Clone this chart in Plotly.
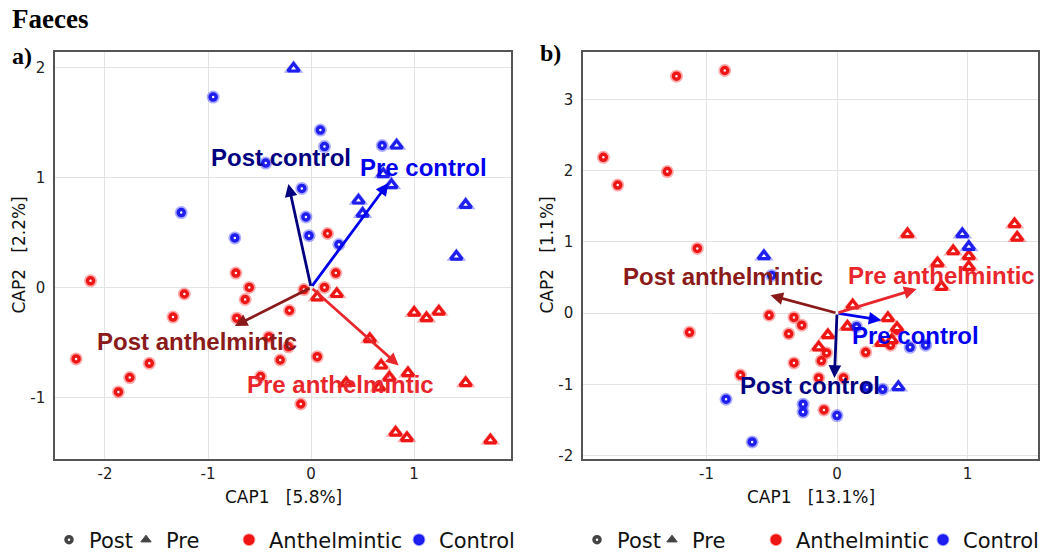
import plotly.graph_objects as go

# ---------------- panel a) : sample scores ----------------
a_post_anth_x = [-2.14, -0.73, -0.60, -0.64, -1.23, -1.34, -0.72, -2.28, -1.57, -1.76, -1.87, -0.49,
                 0.16, 0.24, 0.13, -0.07, -0.21, -0.41, -0.22, -0.30, 0.06, -0.10]
a_post_anth_y = [0.06, 0.13, 0.00, -0.11, -0.06, -0.27, -0.28, -0.65, -0.69, -0.82, -0.95, -0.81,
                 0.49, 0.13, 0.00, -0.02, -0.21, -0.45, -0.54, -0.66, -0.63, -1.06]
a_pre_anth_x = [0.06, 0.25, 1.00, 1.12, 1.24, 0.57, 0.68, 0.94, 0.76, 0.66, 0.34, 1.50, 0.82, 0.93, 1.74]
a_pre_anth_y = [-0.09, -0.06, -0.23, -0.28, -0.22, -0.47, -0.71, -0.78, -0.82, -0.91, -0.87, -0.87,
                -1.32, -1.37, -1.39]
a_post_ctrl_x = [-0.95, -0.44, 0.09, 0.13, 0.69, -0.09, -0.05, -0.02, 0.27, -1.26, -0.74]
a_post_ctrl_y = [1.73, 1.13, 1.43, 1.28, 1.29, 0.90, 0.64, 0.47, 0.39, 0.68, 0.45]
a_pre_ctrl_x = [-0.17, 0.83, 0.70, 0.78, 0.46, 0.50, 1.50, 1.41]
a_pre_ctrl_y = [1.99, 1.29, 1.03, 0.93, 0.79, 0.67, 0.75, 0.28]

# ---------------- panel b) : sample scores ----------------
b_post_anth_x = [-1.79, -1.68, -1.30, -1.23, -0.86, -1.07, -1.13, -0.52, -0.74, -0.33, -0.27, -0.37,
                 -0.33, -0.08, -0.12, 0.22, 0.41, -0.14, 0.05, -0.10, 0.46]
b_post_anth_y = [2.19, 1.80, 1.99, 3.33, 3.41, 0.91, -0.27, -0.03, -0.87, -0.06, -0.17, -0.29,
                 -0.70, -0.56, -0.67, -0.55, -0.45, -0.91, -0.91, -1.36, -0.24]
b_pre_anth_x = [0.54, 1.36, 1.38, 0.89, 1.01, 0.77, 1.01, 0.80, 0.12, 0.39, 0.08, 0.46, -0.07, -0.14,
                0.34, 0.42]
b_pre_anth_y = [1.11, 1.25, 1.06, 0.87, 0.80, 0.70, 0.65, 0.37, 0.11, -0.07, -0.19, -0.21, -0.31, -0.48,
                -0.42, -0.38]
b_post_ctrl_x = [-0.50, -0.85, -0.65, -0.26, -0.26, 0.00, 0.23, 0.35, 0.56, 0.68, 0.15]
b_post_ctrl_y = [0.53, -1.21, -1.81, -1.28, -1.39, -1.44, -1.04, -1.07, -0.48, -0.45, -0.19]
b_pre_ctrl_x = [-0.56, 0.96, 1.01, 0.47]
b_pre_ctrl_y = [0.80, 1.11, 0.93, -1.04]

# ---------------- constrained-group vectors ----------------
vec_names = ["Post control", "Pre control", "Post anthelmintic", "Pre anthelmintic"]
vec_colors = ["#00007F", "#0000EE", "#8B1A1A", "#E8262B"]
a_vec_x = [-0.22, 0.75, -0.74, 0.85]
a_vec_y = [0.94, 0.95, -0.35, -0.71]
a_lab_x = [-0.29, 1.09, -1.11, 0.29]
a_lab_y = [1.18, 1.09, -0.49, -0.88]
b_vec_x = [-0.02, 0.34, -0.51, 0.61]
b_vec_y = [-0.91, -0.10, 0.25, 0.34]
b_lab_x = [-0.21, 0.60, -0.87, 0.80]
b_lab_y = [-1.01, -0.31, 0.51, 0.53]

# axis texts and ticks
a_xtitle, a_ytitle = "CAP1\u00a0\u00a0\u00a0[5.8%]", "CAP2\u00a0\u00a0\u00a0[2.2%]"
b_xtitle, b_ytitle = "CAP1\u00a0\u00a0\u00a0[13.1%]", "CAP2\u00a0\u00a0\u00a0[1.1%]"
a_xticks = [-2, -1, 0, 1]
a_yticks = [-1, 0, 1, 2]
b_xticks = [-1, 0, 1]
b_yticks = [-2, -1, 0, 1, 2, 3]

# legend entries and where each key sits (symbol centre, px)
legend_names = ["Post", "Pre", "Anthelmintic", "Control"]
legend_key_x = [[69, 146, 249, 419], [597, 672, 776, 943]]

W, H = 1045, 556
A_X0, A_X1 = 55, 511
B_X0, B_X1 = 583, 1038
Y_TOP, Y_BOT = 52, 459

RED, RED_GLOW = "#EE1515", "rgba(255,0,0,0.33)"
BLUE, BLUE_GLOW = "#1E1EEE", "rgba(0,0,255,0.33)"

fig = go.Figure()


def add_points(x, y, xa, ya, symbol, color, glow):
    tri = symbol == "triangle-up"
    big = 17 if tri else 13
    small = 10 if tri else 6
    fig.add_trace(go.Scatter(x=x, y=y, xaxis=xa, yaxis=ya, mode="markers", showlegend=False,
                             hoverinfo="skip",
                             marker=dict(symbol=symbol, size=big, color=glow, line=dict(width=0))))
    fig.add_trace(go.Scatter(x=x, y=y, xaxis=xa, yaxis=ya, mode="markers", showlegend=False,
                             marker=dict(symbol=symbol, size=small, color="white",
                                         line=dict(color=color, width=3.2 if tri else 3.5))))


for xa, ya, groups in [
    ("x", "y", [(a_post_anth_x, a_post_anth_y, "circle", RED, RED_GLOW),
                (a_pre_anth_x, a_pre_anth_y, "triangle-up", RED, RED_GLOW),
                (a_post_ctrl_x, a_post_ctrl_y, "circle", BLUE, BLUE_GLOW),
                (a_pre_ctrl_x, a_pre_ctrl_y, "triangle-up", BLUE, BLUE_GLOW)]),
    ("x2", "y2", [(b_post_anth_x, b_post_anth_y, "circle", RED, RED_GLOW),
                  (b_pre_anth_x, b_pre_anth_y, "triangle-up", RED, RED_GLOW),
                  (b_post_ctrl_x, b_post_ctrl_y, "circle", BLUE, BLUE_GLOW),
                  (b_pre_ctrl_x, b_pre_ctrl_y, "triangle-up", BLUE, BLUE_GLOW)]),
]:
    for gx, gy, sym, col, glow in groups:
        add_points(gx, gy, xa, ya, sym, col, glow)

# legend keys: one single-entry legend per key so each can be placed freely
GREY = "#444444"
legend_markers = [
    dict(symbol="circle", size=6, color="white", line=dict(color=GREY, width=3.5)),
    dict(symbol="triangle-up", size=9, color=GREY, line=dict(color=GREY, width=1)),
    dict(symbol="circle", size=11, color=RED, line=dict(color=RED_GLOW, width=2)),
    dict(symbol="circle", size=11, color=BLUE, line=dict(color=BLUE_GLOW, width=2)),
]
leg_common = dict(orientation="h", yanchor="middle", y=1 - 540 / H,
                  xanchor="left", bgcolor="rgba(0,0,0,0)", itemwidth=30,
                  font=dict(family="DejaVu Sans", size=21, color="#111111"))
legend_layout = {}
k = 0
for pa in range(2):
    for name, mk, kx in zip(legend_names, legend_markers, legend_key_x[pa]):
        k += 1
        lid = "legend" if k == 1 else f"legend{k}"
        fig.add_trace(go.Scatter(x=[None], y=[None], xaxis="x" if pa == 0 else "x2",
                                 yaxis="y" if pa == 0 else "y2", mode="markers", name=name,
                                 marker=mk, legend=lid))
        legend_layout[lid] = dict(x=(kx - 20) / W, **leg_common)

annotations = []
for xref, yref, vx, vy, lx, ly in [("x", "y", a_vec_x, a_vec_y, a_lab_x, a_lab_y),
                                   ("x2", "y2", b_vec_x, b_vec_y, b_lab_x, b_lab_y)]:
    for name, col, ex, ey in zip(vec_names, vec_colors, vx, vy):
        annotations.append(dict(x=ex, y=ey, ax=0, ay=0, xref=xref, yref=yref, axref=xref, ayref=yref,
                                showarrow=True, arrowhead=2, arrowsize=0.9, arrowwidth=2.8,
                                arrowcolor=col, text=""))
    for name, col, tx, ty in zip(vec_names, vec_colors, lx, ly):
        annotations.append(dict(x=tx, y=ty, xref=xref, yref=yref, showarrow=False, text=name,
                                xanchor="center", yanchor="middle",
                                font=dict(family="Liberation Sans", size=24, color=col, weight="bold")))

# axis titles
title_font = dict(family="DejaVu Sans", size=17, color="#111111")
for text, cx in [(a_xtitle, (A_X0 + A_X1) / 2), (b_xtitle, (B_X0 + B_X1) / 2)]:
    annotations.append(dict(x=cx / W, y=1 - 497 / H, xref="paper", yref="paper", text=text,
                            showarrow=False, xanchor="center", yanchor="middle", font=title_font))
for text, cx in [(a_ytitle, 19), (b_ytitle, 547)]:
    annotations.append(dict(x=cx / W, y=1 - (Y_TOP + Y_BOT) / 2 / H, xref="paper", yref="paper",
                            text=text, textangle=-90, showarrow=False, xanchor="center",
                            yanchor="middle", font=title_font))

serif = dict(family="Liberation Serif", color="black", weight="bold")
annotations += [
    dict(x=10 / W, y=1 - 19 / H, xref="paper", yref="paper", text="Faeces", showarrow=False,
         xanchor="left", yanchor="middle", font=dict(size=27, **serif)),
    dict(x=10 / W, y=1 - 56 / H, xref="paper", yref="paper", text="a)", showarrow=False,
         xanchor="left", yanchor="middle", font=dict(size=24, **serif)),
    dict(x=538 / W, y=1 - 53 / H, xref="paper", yref="paper", text="b)", showarrow=False,
         xanchor="left", yanchor="middle", font=dict(size=24, **serif)),
]

grid = "#E3E3E3"
axis_common = dict(showgrid=True, gridcolor=grid, gridwidth=1, zeroline=False, showline=True,
                   mirror=True, linecolor="#555555", linewidth=1.5, ticks="", automargin=False,
                   tickfont=dict(family="DejaVu Sans", size=15, color="#222222"))
y_dom = [1 - Y_BOT / H, 1 - Y_TOP / H]


def tick_text(vals):
    return [str(v) for v in vals]


fig.update_layout(
    width=W, height=H, margin=dict(l=0, r=0, t=0, b=0, autoexpand=False),
    paper_bgcolor="white", plot_bgcolor="white",
    xaxis=dict(domain=[A_X0 / W, A_X1 / W], range=[-2.485, 1.94], tickvals=a_xticks,
               ticktext=tick_text(a_xticks), anchor="y", ticklabelstandoff=0, **axis_common),
    yaxis=dict(domain=y_dom, range=[-1.56, 2.14], tickvals=a_yticks, ticktext=tick_text(a_yticks),
               anchor="x", ticklabelstandoff=5, **axis_common),
    xaxis2=dict(domain=[B_X0 / W, B_X1 / W], range=[-1.946, 1.54], tickvals=b_xticks,
                ticktext=tick_text(b_xticks), anchor="y2", ticklabelstandoff=0, **axis_common),
    yaxis2=dict(domain=y_dom, range=[-2.05, 3.67], tickvals=b_yticks, ticktext=tick_text(b_yticks),
                anchor="x2", ticklabelstandoff=5, **axis_common),
    annotations=annotations,
    **legend_layout,
)

fig.write_html("out.html")
